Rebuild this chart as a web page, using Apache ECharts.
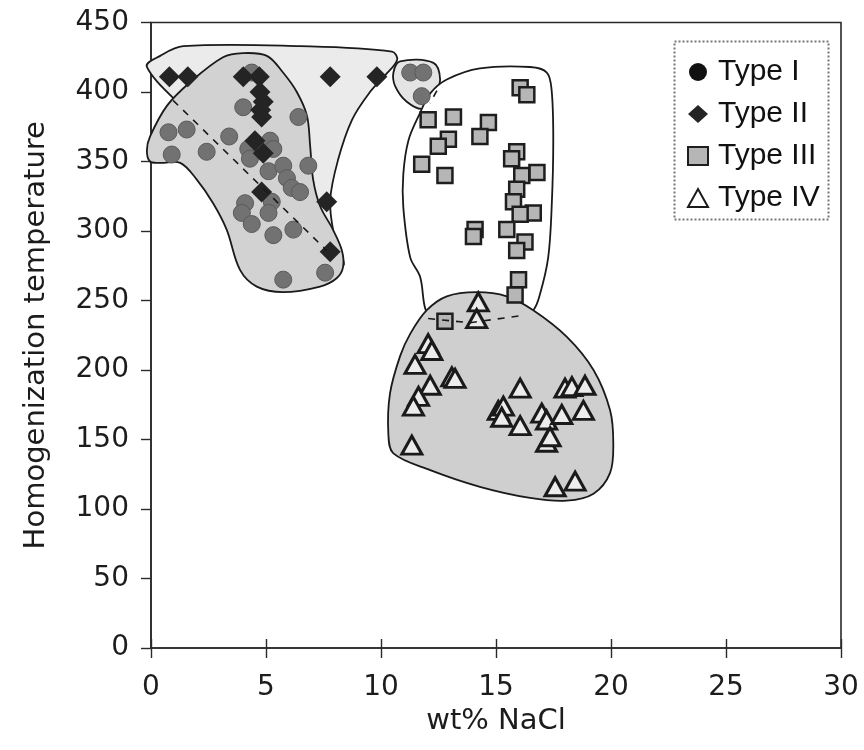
<!DOCTYPE html>
<html>
<head>
<meta charset="utf-8">
<script src="https://cdn.jsdelivr.net/npm/echarts@6/dist/echarts.min.js"></script>
<style>
  html, body { margin: 0; padding: 0; background: #ffffff; }
  #chart { width: 864px; height: 750px; }
</style>
</head>
<body>
<div id="chart"></div>
<script>
// Fluid inclusion data: salinity (wt% NaCl) vs homogenization temperature
const xTicks = [0, 5, 10, 15, 20, 25, 30];
const yTicks = [0, 50, 100, 150, 200, 250, 300, 350, 400, 450];

const typeI = [
  [0.76, 371], [1.55, 373], [0.9, 355], [2.42, 357], [3.4, 368], [4.01, 389],
  [4.38, 414], [6.41, 382], [4.23, 359], [4.3, 352], [5.18, 365], [5.32, 359],
  [6.84, 347], [5.11, 343], [5.75, 347], [5.91, 338], [6.12, 331], [6.48, 328],
  [4.09, 320], [5.25, 321], [3.95, 313], [5.11, 313], [4.38, 305], [5.32, 297],
  [6.19, 301], [7.57, 270], [5.75, 265], [11.27, 414], [11.84, 414], [11.77, 397]
];
const typeII = [
  [0.8, 411], [1.6, 411], [4.01, 411], [4.71, 411], [7.79, 411], [9.82, 411],
  [4.74, 400], [4.88, 393], [4.77, 387], [4.81, 382], [4.52, 365], [4.88, 356],
  [4.81, 328], [7.64, 321], [7.79, 285]
];
const typeIII = [
  [16.05, 403], [16.34, 398], [14.67, 378], [14.3, 368], [12.05, 380], [13.15, 382],
  [12.93, 366], [12.49, 361], [11.77, 348], [12.78, 340], [14.09, 301], [14.02, 296],
  [15.9, 357], [15.68, 352], [16.78, 342], [16.12, 340], [15.9, 330], [15.76, 321],
  [16.62, 313], [16.05, 312], [15.47, 301], [16.26, 292], [15.9, 286], [15.98, 265],
  [15.83, 254], [12.78, 235]
];
const typeIV = [
  [14.23, 249], [14.16, 237], [12.05, 219], [12.21, 214], [11.48, 204], [12.14, 189],
  [13.08, 195], [13.22, 194], [11.63, 181], [11.41, 174], [11.34, 146], [16.05, 187],
  [15.1, 171], [15.32, 174], [15.25, 166], [16.05, 160], [16.99, 169], [17.2, 164],
  [17.2, 148], [17.35, 152], [17.86, 168], [18.0, 187], [18.3, 188], [18.87, 189],
  [18.8, 171], [17.57, 116], [18.44, 120]
];

// Field outlines (salinity, temperature)
const fieldTypeII = [
  [-0.18, 418], [0.4, 426], [1.4, 433], [6.48, 433], [10.48, 429], [10.7, 423],
  [10.18, 412], [9.52, 400], [8.74, 380], [8.13, 351], [7.79, 322], [7.96, 297],
  [8.35, 275], [6.8, 290], [3.5, 350], [1.6, 385]
];
const fieldTypeI = [
  [-0.04, 350], [-0.18, 358], [-0.04, 368], [0.69, 390], [1.7, 407], [3.13, 425],
  [4.0, 428], [5.04, 426], [5.74, 414], [6.34, 400], [6.78, 383], [6.92, 361],
  [7.05, 337], [7.35, 318], [7.91, 301], [8.3, 286], [8.35, 274], [8.07, 266],
  [7.35, 260], [5.74, 256], [4.6, 260], [3.87, 272], [3.29, 301], [2.7, 320],
  [1.99, 337], [1.27, 349], [0.4, 349]
];
const fieldSmall = [
  [10.83, 422], [12.28, 421], [12.57, 409], [12.35, 399], [11.84, 388],
  [11.12, 393], [10.62, 404], [10.54, 414]
];
const fieldTypeIII = [
  [12.86, 409], [14.3, 417], [16.48, 418], [17.21, 414], [17.42, 401], [17.49, 365],
  [17.42, 317], [17.27, 281], [16.92, 255], [16.62, 243], [16.05, 239], [14.0, 228],
  [12.14, 239], [11.91, 245], [11.7, 267], [11.27, 281], [10.97, 317], [10.97, 341],
  [11.19, 365], [11.7, 385], [12.14, 399]
];
const fieldTypeIV = [
  [11.99, 243], [12.86, 253], [14.16, 256], [15.47, 253], [16.62, 243], [18.07, 224],
  [19.24, 200], [19.96, 171], [20.1, 147], [19.96, 126], [19.24, 111], [18.07, 106],
  [16.48, 108], [14.3, 116], [12.14, 128], [10.54, 140], [10.32, 154], [10.39, 183],
  [10.83, 210], [11.27, 226]
];
const trendTypeI = [[0.96, 394], [7.64, 286]];
const boundaryIIIIV = [[12.05, 237], [13.87, 234], [16.05, 239]];
const linkSmall = [[12.43, 401], [12.13, 392]];

const axisFont = 'DejaVu Sans';
const inkColor = '#1c1c1c';

function fieldSeries(points, fill) {
  return {
    type: 'custom',
    silent: true,
    data: [[0, 0]],
    renderItem: function (params, api) {
      return {
        type: 'polygon',
        shape: { points: points.map(function (p) { return api.coord(p); }), smooth: 0.35 },
        style: { fill: fill, stroke: '#1a1a1a', lineWidth: 1.8 }
      };
    }
  };
}

function dashedSeries(points) {
  return {
    type: 'line',
    data: points,
    symbol: 'none',
    silent: true,
    lineStyle: { color: '#1a1a1a', width: 1.6, type: [7, 7] }
  };
}

const chart = echarts.init(document.getElementById('chart'), null, { renderer: 'canvas' });
chart.setOption({
  animation: false,
  backgroundColor: '#ffffff',
  grid: {
    left: 151, right: 23, top: 22.5, bottom: 102,
    show: true, borderColor: '#2a2a2a', borderWidth: 1.6
  },
  xAxis: [{
    type: 'value', min: xTicks[0], max: xTicks[xTicks.length - 1], interval: 5,
    name: 'wt% NaCl', nameLocation: 'middle', nameGap: 58,
    nameTextStyle: { fontFamily: axisFont, fontSize: 29, color: inkColor },
    axisLine: { lineStyle: { color: '#2a2a2a', width: 1.6 } },
    axisTick: { length: 10, lineStyle: { color: '#2a2a2a', width: 1.4 } },
    axisLabel: { fontFamily: axisFont, fontSize: 28, color: inkColor, margin: 26 },
    splitLine: { show: false }
  }, {
    type: 'value', min: xTicks[0], max: xTicks[xTicks.length - 1], interval: 5,
    position: 'bottom',
    axisLine: { show: false },
    axisTick: { inside: true, length: 9, lineStyle: { color: '#2a2a2a', width: 1.4 } },
    axisLabel: { show: false },
    splitLine: { show: false }
  }],
  yAxis: {
    type: 'value', min: yTicks[0], max: yTicks[yTicks.length - 1], interval: 50,
    name: 'Homogenization temperature', nameLocation: 'middle', nameGap: 100,
    nameTextStyle: { fontFamily: axisFont, fontSize: 29, color: inkColor },
    axisLine: { lineStyle: { color: '#2a2a2a', width: 1.6 } },
    axisTick: { length: 10, lineStyle: { color: '#2a2a2a', width: 1.4 } },
    axisLabel: { fontFamily: axisFont, fontSize: 28, color: inkColor, margin: 22 },
    splitLine: { show: false }
  },
  legend: {
    orient: 'vertical', left: 682, top: 52,
    itemWidth: 20, itemHeight: 18, itemGap: 12,
    textStyle: { fontFamily: 'Liberation Sans', fontSize: 30, lineHeight: 30, color: '#111', padding: [0, 0, 0, 5] },
    data: [
      { name: 'Type I', itemStyle: { color: '#111111', borderWidth: 0 } },
      { name: 'Type II' },
      { name: 'Type III' },
      { name: 'Type IV', itemStyle: { color: '#ffffff' } }
    ]
  },
  graphic: [{
    type: 'rect', left: 672, top: 39, silent: true,
    shape: { width: 154, height: 178 },
    style: { fill: 'none', stroke: '#777777', lineWidth: 2, lineDash: [2, 2] }
  }],
  series: [
    fieldSeries(fieldTypeII, '#ebebeb'),
    fieldSeries(fieldSmall, '#e4e4e4'),
    fieldSeries(fieldTypeI, '#d2d2d2'),
    fieldSeries(fieldTypeIII, '#ffffff'),
    fieldSeries(fieldTypeIV, '#cfcfcf'),
    dashedSeries(trendTypeI),
    dashedSeries(boundaryIIIIV),
    dashedSeries(linkSmall),
    {
      name: 'Type I', type: 'scatter', data: typeI, symbol: 'circle', symbolSize: 17,
      itemStyle: { color: '#727272', borderColor: '#5a5a5a', borderWidth: 1, opacity: 1 }
    },
    {
      name: 'Type II', type: 'scatter', data: typeII, symbol: 'diamond', symbolSize: 21,
      itemStyle: { color: '#242424', opacity: 1 }
    },
    {
      name: 'Type III', type: 'scatter', data: typeIII, symbol: 'rect', symbolSize: 15,
      itemStyle: { color: '#b6b6b6', borderColor: '#1e1e1e', borderWidth: 2.5, opacity: 1 }
    },
    {
      name: 'Type IV', type: 'scatter', data: typeIV, symbol: 'triangle', symbolSize: [20, 18],
      itemStyle: { color: '#ececec', borderColor: '#1a1a1a', borderWidth: 3, opacity: 1 }
    }
  ]
});
</script>
</body>
</html>
